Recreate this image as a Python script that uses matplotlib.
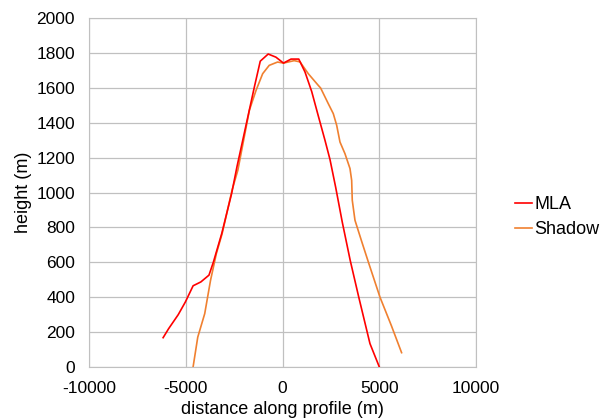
import matplotlib
matplotlib.use("Agg")
from matplotlib import pyplot as plt

plt.rcParams['font.family'] = ['Liberation Sans', 'DejaVu Sans']
plt.rcParams['axes.unicode_minus'] = False

# MLA profile
mla_x = [-6170, -5890, -5390, -5020, -4620, -4220, -3800, -3574, -3140, -2630,
         -2350, -1456, -1150, -740, -340, 50, 440, 840, 1162, 1508, 1849, 2195,
         2453, 2748, 3089, 3500, 3940, 4520, 5000]
mla_y = [167, 218, 299, 372, 465, 487, 526, 600, 765, 994,
         1150, 1605, 1754, 1795, 1777, 1743, 1766, 1766, 1692, 1580, 1440, 1300,
         1190, 1030, 830, 610, 400, 133, 0]

# shadow profile
sh_x = [-4620, -4380, -4020, -3720, -3420, -3120, -2610, -2308, -1710, -1369,
        -1026, -687, -256, 51, 600, 904, 1333, 1849, 1970, 2366, 2624, 2800,
        2970, 3228, 3487, 3574, 3605, 3745, 4090, 4440, 5036, 5630, 6154]
sh_y = [0, 170, 305, 496, 649, 764, 1013, 1128, 1473, 1586,
        1682, 1730, 1749, 1743, 1757, 1750, 1682, 1615, 1600, 1510, 1453, 1386,
        1290, 1223, 1138, 1070, 956, 841, 720, 600, 400, 235, 81]

fig = plt.figure(figsize=(6.08, 4.2), dpi=100)
ax = fig.add_axes([0.1464, 0.1267, 0.6365, 0.8297])

ax.plot(mla_x, mla_y, color='#ff0000', lw=1.2, label='MLA', zorder=3)
ax.plot(sh_x, sh_y, color='#f08030', lw=1.2, label='Shadow', zorder=2)

ax.set_xlim(-10000, 10000)
ax.set_ylim(0, 2000)
ax.set_xticks([-10000, -5000, 0, 5000, 10000])
ax.set_yticks(range(0, 2001, 200))
ax.grid(True, color='#c0c0c0', lw=0.9)
ax.set_axisbelow(True)
for s in ax.spines.values():
    s.set_color('#c0c0c0')
ax.tick_params(length=0, labelsize=12.5, colors='black')
ax.tick_params(axis='x', pad=10.5)
ax.tick_params(axis='y', pad=10)
ax.set_xlabel('distance along profile (m)', fontsize=13, labelpad=3)
ax.set_ylabel('height (m)', fontsize=13, labelpad=3)

ax.legend(loc='center left', bbox_to_anchor=(0.847, 0.4824),
          bbox_transform=fig.transFigure, frameon=False, fontsize=13,
          borderaxespad=0, borderpad=0, handlelength=0.92,
          handletextpad=0.15, labelspacing=0.45)

fig.savefig('out.png', dpi=100)
